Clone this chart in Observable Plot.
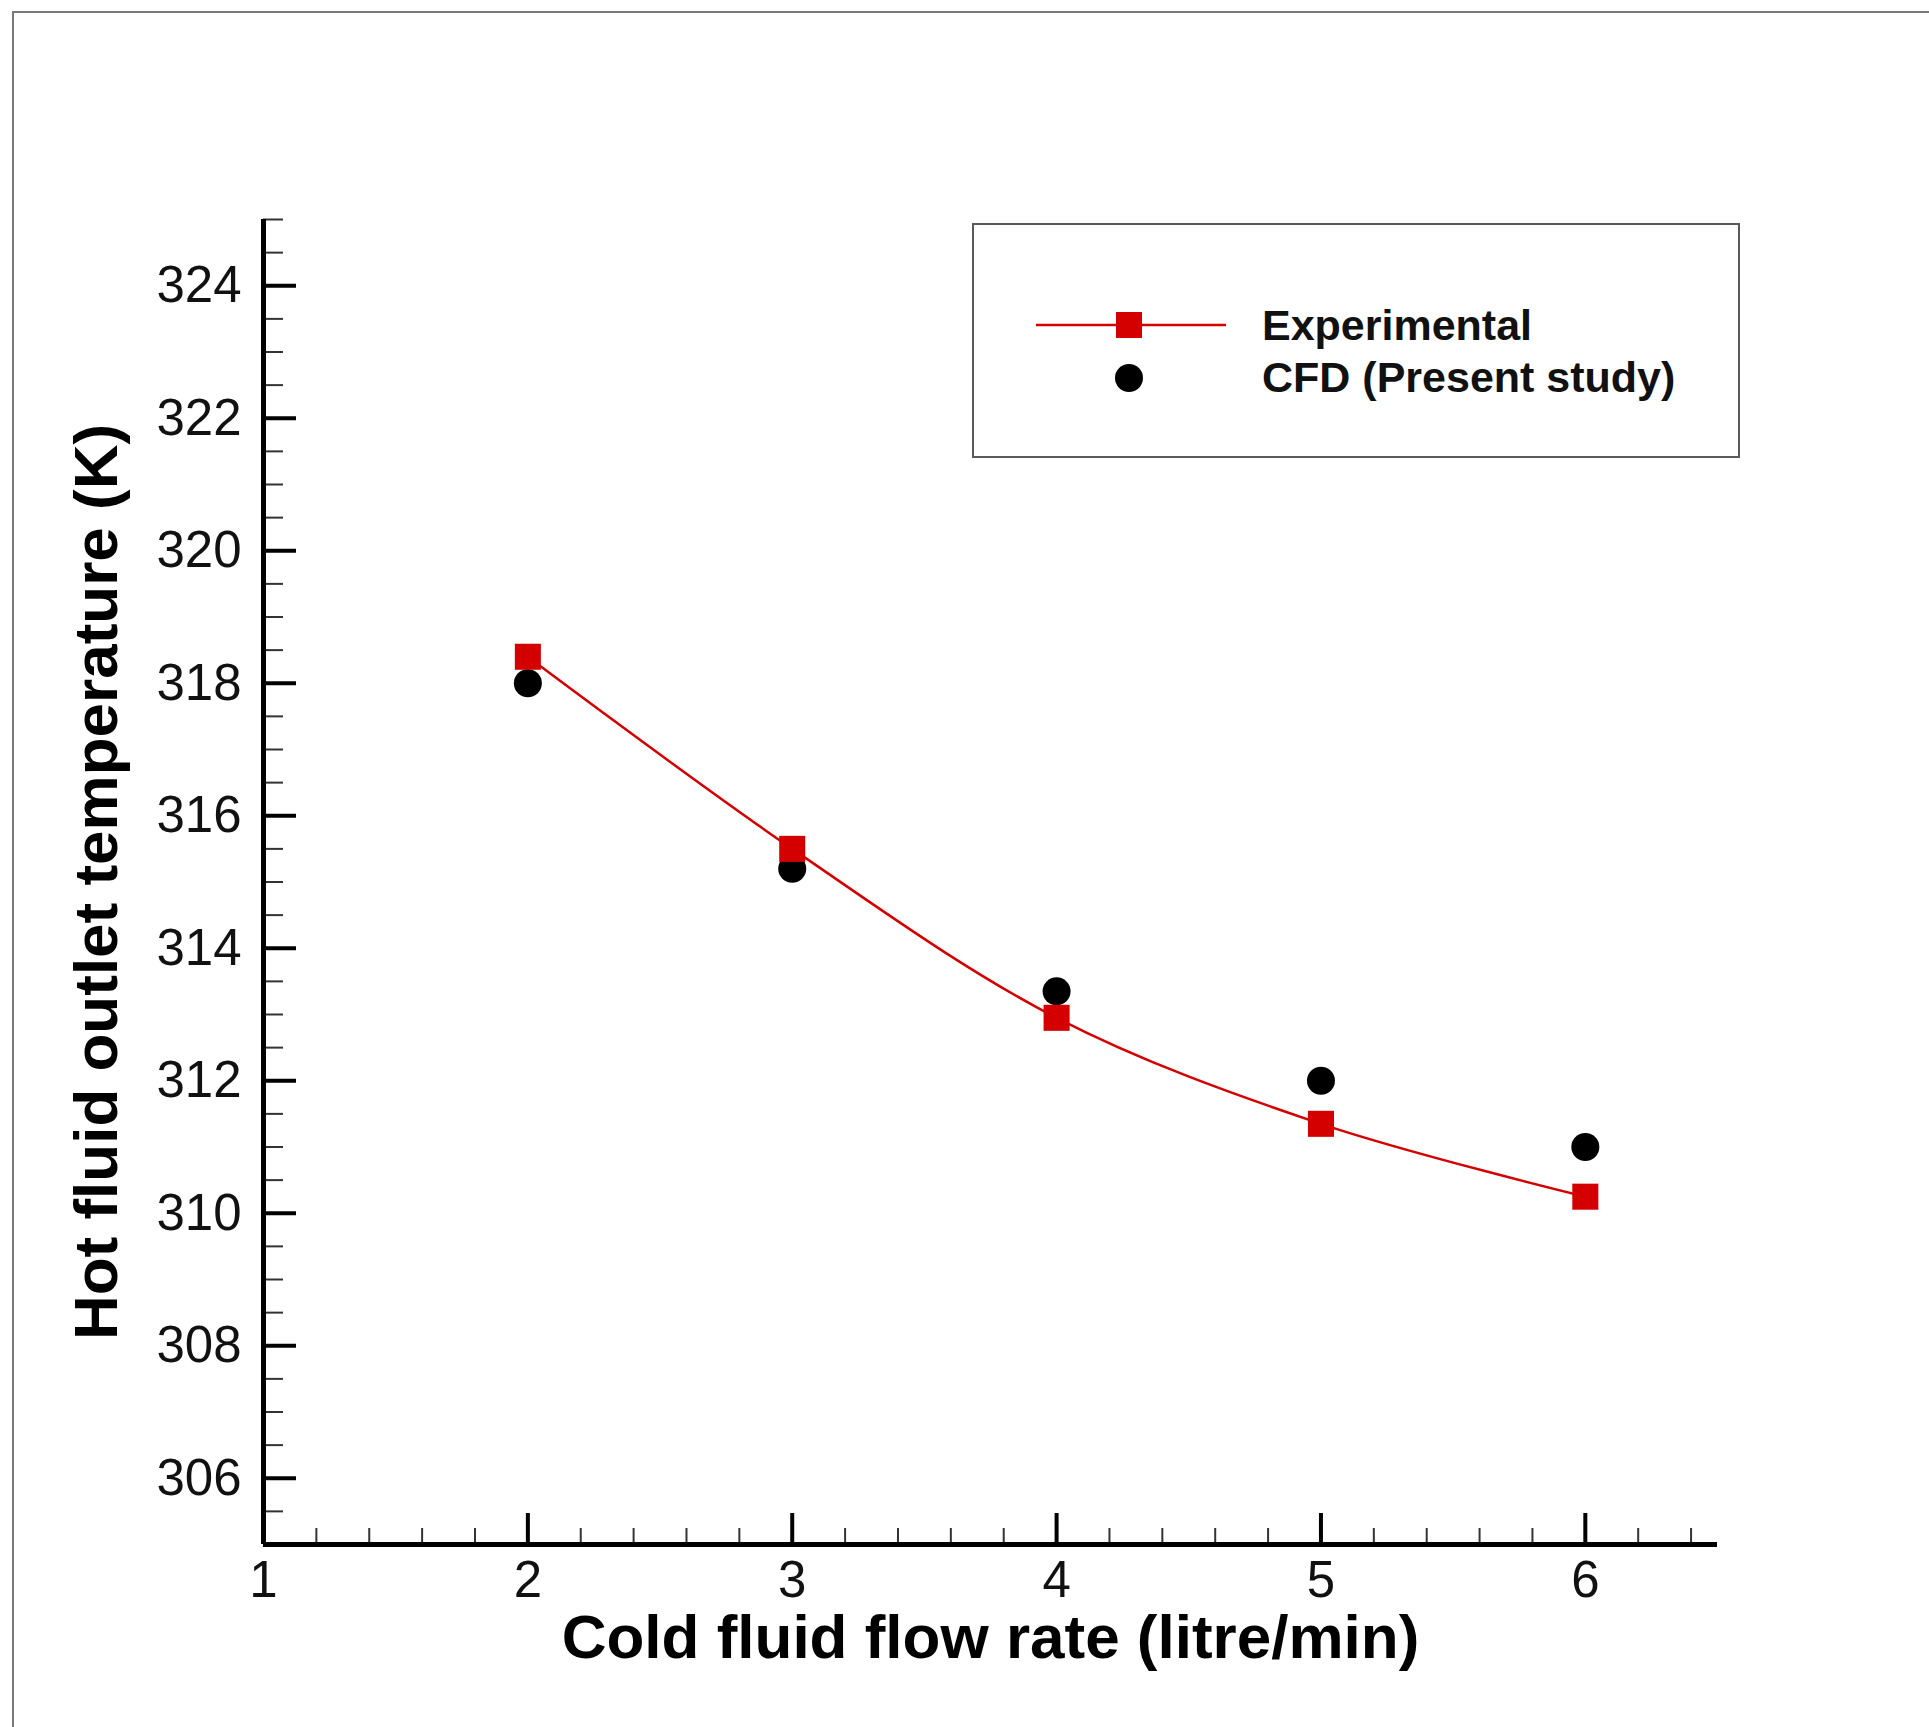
<!DOCTYPE html>
<html>
<head>
<meta charset="utf-8">
<script src="https://cdn.jsdelivr.net/npm/d3@7"></script>
<script src="https://cdn.jsdelivr.net/npm/@observablehq/plot@0.6"></script>
<style>
html, body { margin: 0; padding: 0; background: #fff; overflow: hidden; }
#wrap { position: relative; width: 1929px; height: 1727px; overflow: hidden; }
#frame { position: absolute; left: 12px; top: 11px; width: 2000px; height: 2000px;
  border-left: 2px solid #7a7a7a; border-top: 2px solid #7a7a7a; }
#chart { position: absolute; left: 0; top: 0; }
#legend { position: absolute; left: 972px; top: 223px; }
</style>
</head>
<body>
<div id="wrap">
  <div id="frame"></div>
  <div id="chart"></div>
  <div id="legend"></div>
</div>
<script>
// ---- data ----
const flowRate = [2, 3, 4, 5, 6];                       // Cold fluid flow rate (litre/min)
const expTemp  = [318.4, 315.5, 312.95, 311.35, 310.25]; // Experimental
const cfdTemp  = [318.0, 315.2, 313.35, 312.0, 311.0];   // CFD (Present study)
const seriesNames = ["Experimental", "CFD (Present study)"];
const xMajor = [1, 2, 3, 4, 5, 6];
const yMajor = [306, 308, 310, 312, 314, 316, 318, 320, 322, 324];
const xMinor = d3.range(5, 33).map(i => i / 5).filter(v => !Number.isInteger(v));
const yMinor = d3.range(610, 651).map(i => i / 2).filter(v => v % 2 !== 0);
const xLabel = "Cold fluid flow rate (litre/min)";
const yLabel = "Hot fluid outlet temperature (K)";

const expData = flowRate.map((x, i) => ({x, y: expTemp[i]}));
const cfdData = flowRate.map((x, i) => ({x, y: cfdTemp[i]}));

const font = "'Liberation Sans', Arial, Helvetica, sans-serif";
const red = "#d40000";
const fmt = d => String(d);

const chart = Plot.plot({
  width: 1929,
  height: 1727,
  marginLeft: 263,
  marginRight: 212,
  marginTop: 219,
  marginBottom: 183,
  x: {domain: [1, 6.5]},
  y: {domain: [305, 325]},
  style: {fontFamily: font, background: "transparent", overflow: "visible", color: "#000"},
  marks: [
    Plot.axisX(xMinor, {tickSize: -16, fill: "none", stroke: "#333", strokeWidth: 2, label: null}),
    Plot.axisX(xMajor, {tickSize: -31, fill: "none", stroke: "#000", strokeWidth: 4, label: null}),
    Plot.axisX(xMajor, {tickSize: 0, tickPadding: 16, fontSize: 51, fill: "#111", tickFormat: fmt, label: null}),
    Plot.axisY(yMinor, {tickSize: -20, fill: "none", stroke: "#333", strokeWidth: 2, label: null}),
    Plot.axisY(yMajor, {tickSize: -33, fill: "none", stroke: "#000", strokeWidth: 4, label: null}),
    Plot.axisY(yMajor, {tickSize: 0, tickPadding: 22, fontSize: 51, fill: "#111", tickFormat: fmt, label: null}),
    Plot.ruleY([305], {stroke: "#000", strokeWidth: 5}),
    Plot.ruleX([1], {stroke: "#000", strokeWidth: 5}),
    Plot.line(expData, {x: "x", y: "y", curve: "catmull-rom", stroke: red, strokeWidth: 2.5}),
    Plot.dot(cfdData, {x: "x", y: "y", r: 14, fill: "#000", stroke: null}),
    Plot.dot(expData, {x: "x", y: "y", symbol: "square", r: 14.7, fill: red, stroke: null}),
    Plot.text([xLabel], {frameAnchor: "bottom", dy: 113, lineAnchor: "bottom", textAnchor: "middle", fontSize: 62, fontWeight: "bold", fill: "#000"}),
    Plot.text([yLabel], {frameAnchor: "left", dx: -147, rotate: -90, lineAnchor: "bottom", textAnchor: "middle", fontSize: 62, fontWeight: "bold", fill: "#000"})
  ]
});
document.getElementById("chart").appendChild(chart);

// ---- legend ----
const lg = d3.select("#legend").append("svg")
  .attr("width", 770).attr("height", 237)
  .style("font-family", font);
lg.append("rect").attr("x", 1).attr("y", 1).attr("width", 766).attr("height", 233)
  .attr("fill", "#fff").attr("stroke", "#5a5a5a").attr("stroke-width", 2);
lg.append("line").attr("x1", 64).attr("x2", 254).attr("y1", 102).attr("y2", 102)
  .attr("stroke", red).attr("stroke-width", 2.5);
lg.append("rect").attr("x", 144).attr("y", 89).attr("width", 26).attr("height", 26).attr("fill", red);
lg.append("circle").attr("cx", 157).attr("cy", 155).attr("r", 14).attr("fill", "#000");
lg.selectAll("text.item").data(seriesNames).join("text")
  .attr("class", "item")
  .attr("x", 290)
  .attr("y", (d, i) => i === 0 ? 117 : 169)
  .attr("font-size", 43)
  .attr("font-weight", "bold")
  .attr("fill", "#111")
  .text(d => d);
</script>
</body>
</html>
